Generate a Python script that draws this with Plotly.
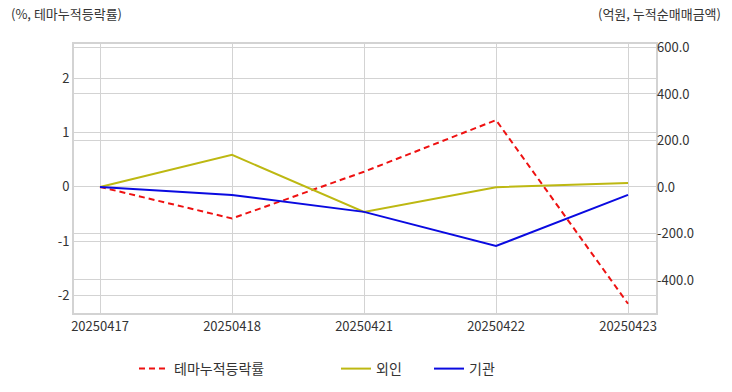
import plotly.graph_objects as go

dates = ["20250417", "20250418", "20250421", "20250422", "20250423"]
theme_rate = [0.0, -0.58, 0.28, 1.23, -2.15]
foreign = [0.0, 138.0, -107.0, -1.0, 17.0]
institution = [0.0, -34.0, -107.0, -254.0, -34.0]

left_tick_vals = [-2, -1, 0, 1, 2]
left_tick_text = ["-2", "-1", "0", "1", "2"]
right_tick_vals = [-400, -200, 0, 200, 400, 600]
right_tick_text = ["-400.0", "-200.0", "0.0", "200.0", "400.0", "600.0"]

font_family = "Noto Sans CJK KR, Noto Sans, sans-serif"
grid_c = "#d3d3d3"
text_c = "#333333"

fig = go.Figure()
fig.add_trace(go.Scatter(x=dates, y=theme_rate, name="테마누적등락률", mode="lines", showlegend=True,
                         line=dict(color="#ee1111", width=2, dash="6px,4px"), yaxis="y", legend="legend"))
fig.add_trace(go.Scatter(x=dates, y=foreign, name="외인", mode="lines", showlegend=True,
                         line=dict(color="#bdb812", width=2), yaxis="y2", legend="legend2"))
fig.add_trace(go.Scatter(x=dates, y=institution, name="기관", mode="lines", showlegend=True,
                         line=dict(color="#0a0ae0", width=2), yaxis="y2", legend="legend2"))

fig.update_layout(
    width=732, height=392,
    showlegend=True,
    margin=dict(l=74, r=76, t=44, b=79, autoexpand=False),
    paper_bgcolor="white", plot_bgcolor="white",
    font=dict(family=font_family, size=13, color=text_c),
    xaxis=dict(type="category", range=[-0.197, 4.212], showgrid=True, gridcolor=grid_c, gridwidth=1,
               showline=True, linecolor=grid_c, linewidth=2, mirror=True, ticks="",
               tickfont=dict(size=13, color=text_c), automargin=False),
    yaxis=dict(range=[-2.32, 2.63], tickmode="array", tickvals=left_tick_vals, ticktext=left_tick_text,
               showgrid=True, gridcolor=grid_c,
               zeroline=False, showline=True, linecolor=grid_c, linewidth=2, mirror=True,
               ticks="", tickfont=dict(size=13, color=text_c), automargin=False),
    yaxis2=dict(range=[-542, 615], overlaying="y", side="right", tickmode="array",
                tickvals=right_tick_vals, ticktext=right_tick_text,
                showgrid=True, gridcolor=grid_c, zeroline=False, ticks="",
                tickfont=dict(size=13, color=text_c), automargin=False),
    legend=dict(orientation="h", xref="container", yref="container", x=134 / 732, xanchor="left",
                y=(392 - 369) / 392, yanchor="middle",
                font=dict(size=14, color=text_c), bgcolor="rgba(0,0,0,0)"),
    legend2=dict(orientation="h", xref="container", yref="container", x=336 / 732, xanchor="left",
                 y=(392 - 369) / 392, yanchor="middle", entrywidth=48, entrywidthmode="pixels",
                 font=dict(size=14, color=text_c), bgcolor="rgba(0,0,0,0)"),
    annotations=[
        dict(text="(%, 테마누적등락률)", xref="paper", yref="paper", x=(9 - 74) / 582, y=1.0,
             xanchor="left", yanchor="bottom", yshift=19, showarrow=False, font=dict(size=13, color=text_c)),
        dict(text="(억원, 누적순매매금액)", xref="paper", yref="paper", x=(723 - 74) / 582, y=1.0,
             xanchor="right", yanchor="bottom", yshift=19, showarrow=False, font=dict(size=13, color=text_c)),
    ],
)

fig.write_html("out.html", config={"displayModeBar": False},
               post_script="document.body.style.margin='0';document.body.style.overflow='hidden';")
